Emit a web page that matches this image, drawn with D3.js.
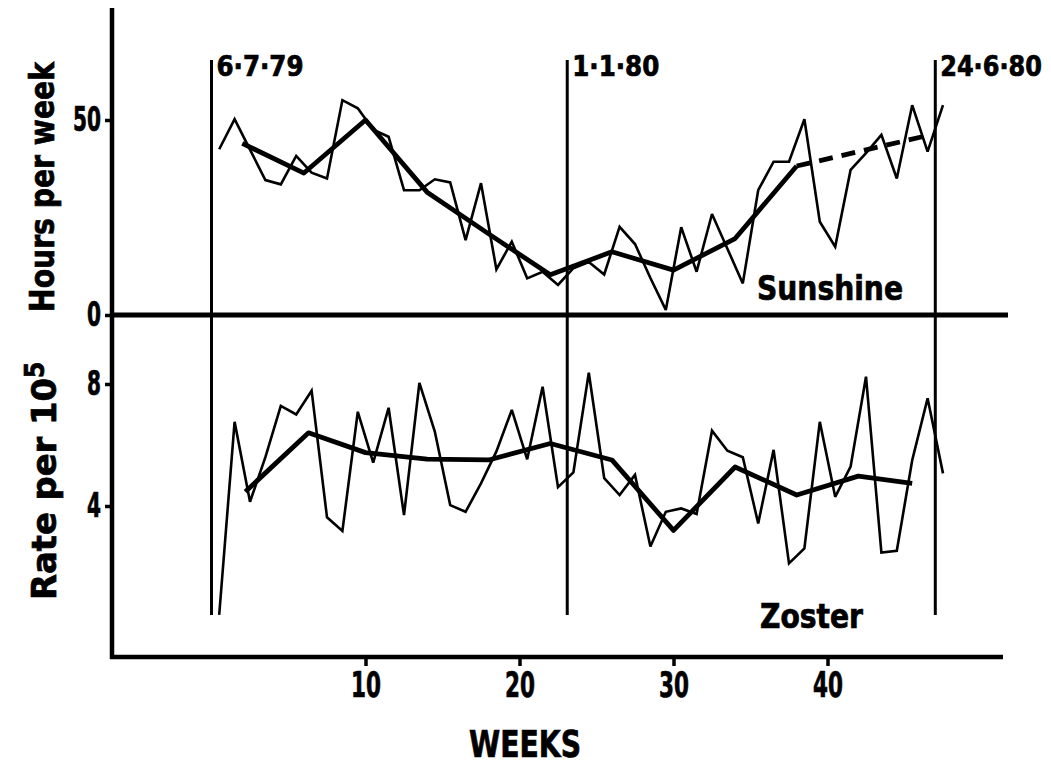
<!DOCTYPE html>
<html><head><meta charset="utf-8">
<script src="https://cdn.jsdelivr.net/npm/d3@7/dist/d3.min.js"></script>
<style>
html,body{margin:0;padding:0;background:#fff;}
svg text{font-family:"Liberation Sans Narrow","DejaVu Sans Condensed","Roboto Condensed","Liberation Sans",sans-serif;font-weight:bold;fill:#000;font-stretch:condensed;stroke:#000;stroke-width:0.7px;}
</style></head><body>
<svg id="chart" width="1051" height="765"></svg>
<script>
// ---- data ----
const weeks = [1,2,3,4,5,6,7,8,9,10,11,12,13,14,15,16,17,18,19,20,21,22,23,24,25,26,27,28,29,30,31,32,33,34,35,36,37,38,39,40,41,42,43,44,45,46,47,48];
const sunshineHours = [42.5,50.2,42.4,34.6,33.5,40.8,36.5,35,55.1,53,47.5,45.7,32,32,34.8,34,19.2,33.8,11.7,18.8,9.4,11.1,7.7,12,13.6,10.4,22.6,18.2,9.5,1.3,22.5,11.1,25.9,17,8.1,32,39.3,39.3,50.2,23.9,17.5,37.2,41.5,46.2,35,53.8,41.9,53.8];
const zosterRate = [0.43,6.76,4.14,5.6,7.28,7.0,7.78,3.63,3.18,7.09,5.42,7.22,3.7,8.04,6.44,4.03,3.81,4.74,5.79,7.15,5.53,7.91,4.62,5.1,8.37,4.91,4.36,5.02,2.67,3.81,3.92,3.74,6.47,5.81,5.6,3.43,5.84,2.12,2.61,6.76,4.3,5.29,8.24,2.47,2.53,5.5,7.53,5.07];
const sunshineTrendWeeks = [2,6,10,14,18,22,26,30,34,38];
const sunshineTrend = [44,36.4,50,31.5,20.8,10.3,16.2,11.5,19.6,38.2];
const sunshineProjWeeks = [38,46.7];
const sunshineProj = [38.2,46.2];
const zosterTrendWeeks = [2.2,6.3,10,14,18,22,26,30,34,38,42,45.5];
const zosterTrend = [4.47,6.4,5.75,5.54,5.51,6.05,5.51,3.2,5.28,4.36,4.98,4.74];
const markerWeeks = [0,23.1,47];
const markerLabels = ["6·7·79","1·1·80","24·6·80"];
const weekTicks = [10,20,30,40];
const hoursTicks = [0,50];
const rateTicks = [4,8];

// ---- layout ----
const svg = d3.select("#chart");
const x = d3.scaleLinear().domain([0,50]).range([211.5,981.5]);
const yHours = d3.scaleLinear().domain([0,50]).range([315,120]);
const yRate = d3.scaleLinear().domain([4,8]).range([506,384]);
const axisX = 112, bottomY = 657;

function fit(sel, perChar){
  sel.attr("lengthAdjust","spacingAndGlyphs").attr("textLength",function(){return this.textContent.length*perChar;});
}
function styleAxis(g, fs, perChar){
  g.select(".domain").remove();
  g.selectAll(".tick line").attr("stroke","#000").attr("stroke-width",3.5);
  g.selectAll(".tick text").style("font-size",fs+"px").attr("fill","#000").call(fit, perChar);
}

// left axis
svg.append("line").attr("x1",axisX).attr("x2",axisX).attr("y1",8).attr("y2",bottomY+2)
  .attr("stroke","#000").attr("stroke-width",4.5);
// bottom axis
svg.append("line").attr("x1",axisX-2).attr("x2",1003).attr("y1",bottomY).attr("y2",bottomY)
  .attr("stroke","#000").attr("stroke-width",4.5);
// zero line of sunshine
svg.append("line").attr("x1",axisX).attr("x2",1008).attr("y1",yHours(0)).attr("y2",yHours(0))
  .attr("stroke","#000").attr("stroke-width",5);

svg.append("g").attr("transform",`translate(${axisX},0)`)
  .call(d3.axisLeft(yHours).tickValues(hoursTicks).tickSize(7).tickPadding(4).tickFormat(d3.format("d")))
  .call(g=>styleAxis(g,34,14));
svg.append("g").attr("transform",`translate(${axisX},0)`)
  .call(d3.axisLeft(yRate).tickValues(rateTicks).tickSize(7).tickPadding(4).tickFormat(d3.format("d")))
  .call(g=>styleAxis(g,34,14));
svg.append("g").attr("transform",`translate(0,${bottomY})`)
  .call(d3.axisBottom(x).tickValues(weekTicks).tickSize(9).tickPadding(5).tickFormat(d3.format("d")))
  .call(g=>styleAxis(g,36,15));

// marker lines
svg.selectAll(".marker").data(markerWeeks).join("line")
  .attr("x1",d=>x(d)).attr("x2",d=>x(d)).attr("y1",60).attr("y2",615)
  .attr("stroke","#000").attr("stroke-width",3);
svg.selectAll(".mlabel").data(markerLabels).join("text")
  .attr("x",(d,i)=>x(markerWeeks[i])+5).attr("y",76)
  .style("font-size","28px").text(d=>d).call(fit,14.5);

// lines
const weekly = (y)=>d3.line().x((d,i)=>x(weeks[i]-0.5)).y(d=>y(d));
const trend = (w,y)=>d3.line().x((d,i)=>x(w[i])).y(d=>y(d));

svg.append("path").datum(sunshineHours).attr("d",weekly(yHours))
  .attr("fill","none").attr("stroke","#000").attr("stroke-width",2.6).attr("stroke-linejoin","miter").attr("stroke-miterlimit",3);
svg.append("path").datum(sunshineTrend).attr("d",trend(sunshineTrendWeeks,yHours))
  .attr("fill","none").attr("stroke","#000").attr("stroke-width",4.8).attr("stroke-linejoin","round");
svg.append("path").datum(sunshineProj).attr("d",trend(sunshineProjWeeks,yHours))
  .attr("fill","none").attr("stroke","#000").attr("stroke-width",4.8).attr("stroke-dasharray","14,9");

svg.append("path").datum(zosterRate).attr("d",weekly(yRate))
  .attr("fill","none").attr("stroke","#000").attr("stroke-width",2.6).attr("stroke-linejoin","miter").attr("stroke-miterlimit",3);
svg.append("path").datum(zosterTrend).attr("d",trend(zosterTrendWeeks,yRate))
  .attr("fill","none").attr("stroke","#000").attr("stroke-width",4.8).attr("stroke-linejoin","round");

// series labels
svg.append("text").attr("x",757).attr("y",300).style("font-size","34px").text("Sunshine")
  .attr("lengthAdjust","spacingAndGlyphs").attr("textLength",146);
svg.append("text").attr("x",760).attr("y",628).style("font-size","34px").text("Zoster")
  .attr("lengthAdjust","spacingAndGlyphs").attr("textLength",103);

// axis titles
svg.append("text").attr("x",525).attr("y",757).attr("text-anchor","middle").style("font-size","38px").text("WEEKS")
  .attr("lengthAdjust","spacingAndGlyphs").attr("textLength",112);
svg.append("text").attr("transform","translate(54,187) rotate(-90)").attr("text-anchor","middle")
  .style("font-size","34px").text("Hours per week")
  .attr("lengthAdjust","spacingAndGlyphs").attr("textLength",250);
const rt = svg.append("text").attr("transform","translate(56,600) rotate(-90)")
  .style("font-size","34px");
rt.append("tspan").text("Rate per 10").attr("lengthAdjust","spacingAndGlyphs").attr("textLength",222);
rt.append("tspan").attr("dy",-12).style("font-size","26px").text("5");
</script>
</body></html>
